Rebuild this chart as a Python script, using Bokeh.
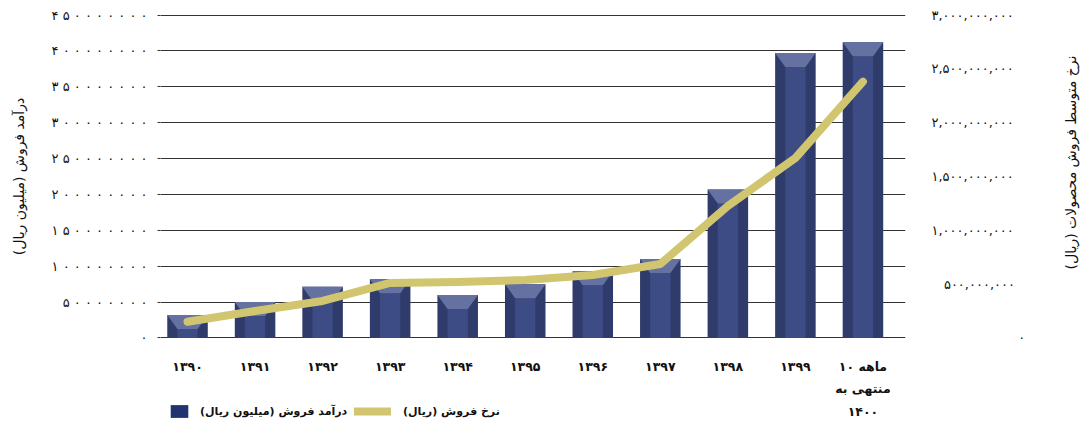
import math
from bokeh.plotting import figure
from bokeh.layouts import row, column
from bokeh.models import Range1d, LinearAxis, FixedTicker, Legend, LegendItem
from bokeh.core.properties import value
from bokeh.embed import file_html
from bokeh.resources import INLINE

# ---------------- data ----------------
years = ["۱۳۹۰", "۱۳۹۱", "۱۳۹۲", "۱۳۹۳", "۱۳۹۴", "۱۳۹۵", "۱۳۹۶", "۱۳۹۷",
         "۱۳۹۸", "۱۳۹۹", "۱۰ ماهه\nمنتهی به\n۱۴۰۰"]
revenue = [32e6, 50e6, 71.5e6, 82e6, 60e6, 75e6, 93e6, 110e6, 207e6, 397e6, 412e6]
rate = [151e6, 251e6, 344e6, 511e6, 520e6, 539e6, 585e6, 687e6, 1226e6, 1672e6, 2381e6]
left_ticks = [0, 50e6, 100e6, 150e6, 200e6, 250e6, 300e6, 350e6, 400e6, 450e6]
right_ticks = [0, 5e8, 1e9, 1.5e9, 2e9, 2.5e9, 3e9]
left_title = "درآمد فروش (میلیون ریال)"
right_title = "نرخ متوسط فروش محصولات (ریال)"
bar_label = "درآمد فروش (میلیون ریال)"
line_label = "نرخ فروش (ریال)"

FA = str.maketrans("0123456789", "۰۱۲۳۴۵۶۷۸۹")
def fa(s):
    return s.translate(FA)

def right_label(t):
    s = f"{int(t):,}"
    widest = f"{int(max(right_ticks)):,}"
    nd = sum(c.isdigit() for c in widest) - sum(c.isdigit() for c in s)
    nc = widest.count(",") - s.count(",")
    # figure / punctuation spaces keep the labels right-aligned
    return "\u2007" * nd + "\u2008" * nc + fa(s)

left_labels = {int(t): " ".join(fa(str(int(t)))) for t in left_ticks}
right_labels = {int(t): right_label(t) for t in right_ticks}
xs = list(range(len(years)))
x_labels = {i: y for i, y in zip(xs, years)}

FONT = "DejaVu Sans"
SIDE = "#2f3b6b"
FRONT = "#3e4c85"
TOP = "#6571a1"
LINE = "#d1c66f"
GRID = "#333333"
TXT = "#111111"
BEVEL = 19.5e6

MAIN_W, MAIN_H, LEG_H, TITLE_W = 1058, 426, 23, 24
BORDER_L, BORDER_R = 160, 153

p = figure(width=MAIN_W, height=MAIN_H, output_backend="svg", toolbar_location=None,
           x_range=Range1d(-0.4, 10.63), y_range=Range1d(-0.7e6, 450.7e6),
           min_border_left=BORDER_L, min_border_right=BORDER_R, min_border_top=14,
           min_border_bottom=88)
p.outline_line_color = None
p.extra_y_ranges = {"rate": Range1d(-0.7e6 / 450e6 * 3e9, 3e9 + 0.7e6 / 450e6 * 3e9)}

# grid
p.xgrid.grid_line_color = None
p.ygrid.ticker = FixedTicker(ticks=left_ticks)
p.ygrid.grid_line_color = GRID
p.ygrid.grid_line_width = 1.2

# bars (3D look)
p.vbar(x=xs, top=revenue, bottom=0, width=0.6, fill_color=SIDE, line_color=None)
p.vbar(x=xs, top=[r - BEVEL for r in revenue], bottom=0, width=0.3,
       fill_color=FRONT, line_color=None)
p.patches(xs=[[x - 0.3, x + 0.3, x + 0.15, x - 0.15] for x in xs],
          ys=[[r, r, r - BEVEL, r - BEVEL] for r in revenue],
          fill_color=TOP, line_color=None)

# line
p.line(xs, rate, y_range_name="rate", line_width=8, line_color=LINE,
       line_cap="round", line_join="round")

# left axis
ya = p.yaxis[0]
ya.ticker = FixedTicker(ticks=left_ticks)
ya.major_label_overrides = left_labels
ya.axis_line_color = None
ya.major_tick_out = 3
ya.major_tick_in = 0
ya.major_tick_line_color = GRID
ya.minor_tick_line_color = None
ya.major_label_standoff = 10
ya.major_label_text_font = FONT
ya.major_label_text_font_size = "13px"
ya.major_label_text_color = TXT
ya.axis_label = left_title
ya.axis_label_standoff = 22
ya.axis_label_text_font = FONT
ya.axis_label_text_font_size = "14px"
ya.axis_label_text_font_style = "normal"
ya.axis_label_text_color = TXT

# right axis
ra = LinearAxis(y_range_name="rate", ticker=FixedTicker(ticks=right_ticks),
                major_label_overrides=right_labels)
ra.axis_line_color = None
ra.major_tick_line_color = None
ra.minor_tick_line_color = None
ra.major_label_standoff = 20
ra.major_label_text_font = FONT
ra.major_label_text_font_size = "13px"
ra.major_label_text_color = TXT
p.add_layout(ra, "right")

# x axis
xa = p.xaxis[0]
xa.ticker = FixedTicker(ticks=xs)
xa.major_label_overrides = x_labels
xa.axis_line_color = None
xa.major_tick_line_color = None
xa.minor_tick_line_color = None
xa.major_label_standoff = 14
xa.major_label_text_font = FONT
xa.major_label_text_font_size = "12.5px"
xa.major_label_text_font_style = "bold"
xa.major_label_text_color = TXT
xa.major_label_text_line_height = 1.5

# legend strip (own transparent figure, pulled up over the chart's bottom edge)
lf = figure(width=MAIN_W, height=LEG_H, output_backend="svg", toolbar_location=None,
            x_range=Range1d(0, 1), y_range=Range1d(0, 1),
            min_border_left=BORDER_L, min_border_right=BORDER_R,
            min_border_top=0, min_border_bottom=0,
            x_axis_location=None, y_axis_location=None, margin=(-LEG_H, 0, 0, 0))
lf.outline_line_color = None
lf.grid.grid_line_color = None
lf.background_fill_alpha = 0
lf.border_fill_alpha = 0
bar_icon = lf.vbar(x=[-5], top=[0], bottom=[0], width=0.01, fill_color="#22346f",
                   line_color=None)
line_icon = lf.line([-6, -5], [0.5, 0.5], line_width=8, line_color=LINE,
                    line_cap="round")
for rend, lab, loc, gw, so in [(bar_icon, bar_label, (8, 7), 22, 10),
                              (line_icon, line_label, (194, 7), 37, 12)]:
    lg = Legend(items=[LegendItem(label=lab, renderers=[rend])], location=loc,
                orientation="horizontal", glyph_width=gw, glyph_height=16,
                label_standoff=so, padding=0, margin=0, border_line_color=None,
                background_fill_alpha=0, label_text_font=FONT,
                label_text_font_style="bold", label_text_font_size="11px",
                label_text_color=TXT, label_height=16)
    lf.add_layout(lg)

# right-hand axis title (own narrow figure so it reads like the left one)
tf = figure(width=TITLE_W, height=MAIN_H, output_backend="svg",
            toolbar_location=None, x_range=Range1d(0, TITLE_W),
            y_range=Range1d(0, MAIN_H), min_border=0,
            x_axis_location=None, y_axis_location=None)
tf.outline_line_color = None
tf.grid.grid_line_color = None
tf.text(x=[TITLE_W / 2], y=[MAIN_H - 162], text=[right_title],
        angle=math.pi / 2, text_align="center", text_baseline="middle",
        text_font=value(FONT), text_font_size="14px", text_color=TXT)

layout = row(column(p, lf), tf)
open("out.html", "w").write(file_html(layout, INLINE))
